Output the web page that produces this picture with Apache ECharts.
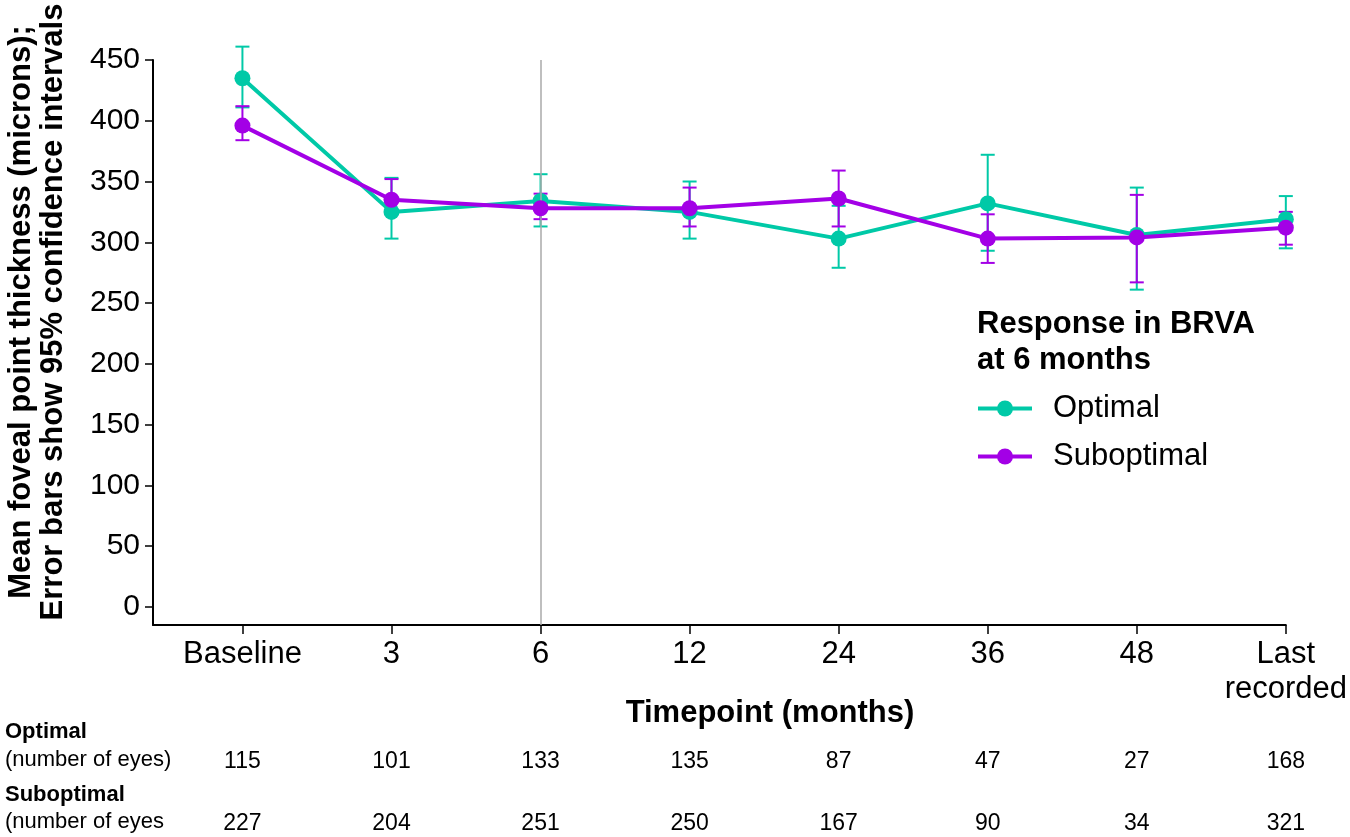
<!DOCTYPE html>
<html><head><meta charset="utf-8">
<script src="https://cdn.jsdelivr.net/npm/echarts@6/dist/echarts.min.js"></script>
<style>html,body{margin:0;padding:0;background:#fff}#c{width:1350px;height:837px}</style>
</head><body><div id="c"></div>
<script>
const categories = ['Baseline','3','6','12','24','36','48','Last\nrecorded'];
const optMean = [435, 325, 334, 325, 303, 332, 306, 319];
const optLow  = [411, 303, 313, 303, 279, 293, 261, 295];
const optHigh = [461, 353, 356, 350, 330, 372, 345, 338];
const subMean = [396, 335, 328, 328, 336, 303, 304, 312];
const subLow  = [384, 324, 319, 313, 313, 283, 267, 298];
const subHigh = [412, 352, 340, 345, 359, 323, 339, 325];
const optN = [115, 101, 133, 135, 87, 47, 27, 168];
const subN = [227, 204, 251, 250, 167, 90, 34, 321];
const yTicks = [0, 50, 100, 150, 200, 250, 300, 350, 400, 450];

const GREEN = '#00c9a7', PURPLE = '#a300e6';
const FONT = 'Liberation Sans, Arial, sans-serif';
const idx = categories.map((_, i) => i);

function errSeries(low, high, color) {
  return {
    type: 'custom',
    data: idx.map(i => [i, low[i], high[i]]),
    encode: { x: 0, y: [1, 2] },
    z: 3,
    silent: true,
    renderItem: function (params, api) {
      const x = api.value(0);
      const lo = api.coord([x, api.value(1)]);
      const hi = api.coord([x, api.value(2)]);
      const w = 7;
      const st = { stroke: color, lineWidth: 2 };
      return { type: 'group', children: [
        { type: 'line', shape: { x1: lo[0], y1: lo[1], x2: hi[0], y2: hi[1] }, style: st },
        { type: 'line', shape: { x1: lo[0] - w, y1: lo[1], x2: lo[0] + w, y2: lo[1] }, style: st },
        { type: 'line', shape: { x1: hi[0] - w, y1: hi[1], x2: hi[0] + w, y2: hi[1] }, style: st }
      ]};
    }
  };
}

const chart = echarts.init(document.getElementById('c'), null, { renderer: 'canvas' });
const countAxis = (arr, offset) => ({
  type: 'value', min: -0.6, max: 7, position: 'bottom', offset: offset,
  axisLine: { show: false, onZero: false }, axisTick: { show: false }, splitLine: { show: false },
  axisLabel: { customValues: idx, formatter: v => String(arr[Math.round(v)]), color: '#000', fontSize: 23, fontFamily: FONT, margin: 0 }
});
chart.setOption({
  animation: false,
  backgroundColor: '#fff',
  grid: { left: 153, right: 60, top: 60, bottom: 212, containLabel: false },
  xAxis: [{
    type: 'value', min: -0.6, max: 7,
    axisLine: { show: true, onZero: false, lineStyle: { color: '#000', width: 2 } },
    axisTick: { show: true, customValues: idx, length: 9, lineStyle: { color: '#000', width: 1.5 } },
    splitLine: { show: false },
    axisLabel: { customValues: idx, formatter: v => categories[Math.round(v)], color: '#000', fontSize: 31, fontFamily: FONT, margin: 12, lineHeight: 35 }
  }, countAxis(optN, 125), countAxis(subN, 187)],
  yAxis: {
    type: 'value', min: -15, max: 450,
    axisLine: { show: true, onZero: false, lineStyle: { color: '#000', width: 2 } },
    axisTick: { show: true, customValues: yTicks, length: 8, lineStyle: { color: '#000', width: 1.5 } },
    splitLine: { show: false },
    axisLabel: { customValues: yTicks, color: '#000', fontSize: 30, fontFamily: FONT, margin: 13 }
  },
  legend: {
    data: ['Optimal', 'Suboptimal'],
    orient: 'vertical', left: 971, top: 388,
    itemWidth: 54, itemHeight: 20, itemGap: 17,
    lineStyle: { width: 4 },
    textStyle: { color: '#000', fontSize: 31, fontFamily: FONT, padding: [0, 0, 0, 16] }
  },
  graphic: [
    { type: 'text', x: 37, y: 312, rotation: Math.PI / 2,
      style: { text: 'Mean foveal point thickness (microns);\nError bars show 95% confidence intervals', align: 'center', verticalAlign: 'middle',
        font: 'bold 31px ' + FONT, lineHeight: 32, fill: '#000' } },
    { type: 'text', x: 770, y: 713,
      style: { text: 'Timepoint (months)', align: 'center', verticalAlign: 'middle', font: 'bold 31px ' + FONT, fill: '#000' } },
    { type: 'text', left: 977, top: 306,
      style: { text: 'Response in BRVA\nat 6 months', font: 'bold 31px ' + FONT, lineHeight: 36, fill: '#000' } },
    { type: 'text', left: 5, top: 721, style: { text: 'Optimal', font: 'bold 22px ' + FONT, fill: '#000' } },
    { type: 'text', left: 5, top: 749, style: { text: '(number of eyes)', font: '22px ' + FONT, fill: '#000' } },
    { type: 'text', left: 5, top: 784, style: { text: 'Suboptimal', font: 'bold 22px ' + FONT, fill: '#000' } },
    { type: 'text', left: 5, top: 811, style: { text: '(number of eyes', font: '22px ' + FONT, fill: '#000' } }
  ],
  series: [
    errSeries(optLow, optHigh, GREEN),
    errSeries(subLow, subHigh, PURPLE),
    {
      name: 'Optimal', type: 'line', z: 4,
      data: idx.map(i => [i, optMean[i]]),
      symbol: 'circle', symbolSize: 16,
      lineStyle: { color: GREEN, width: 4 }, itemStyle: { color: GREEN },
      markLine: { silent: true, symbol: 'none', label: { show: false },
        lineStyle: { color: '#aaa', width: 1.5, type: 'solid' }, data: [{ xAxis: 2 }] }
    },
    {
      name: 'Suboptimal', type: 'line', z: 5,
      data: idx.map(i => [i, subMean[i]]),
      symbol: 'circle', symbolSize: 16,
      lineStyle: { color: PURPLE, width: 4 }, itemStyle: { color: PURPLE }
    }
  ]
});
</script></body></html>
